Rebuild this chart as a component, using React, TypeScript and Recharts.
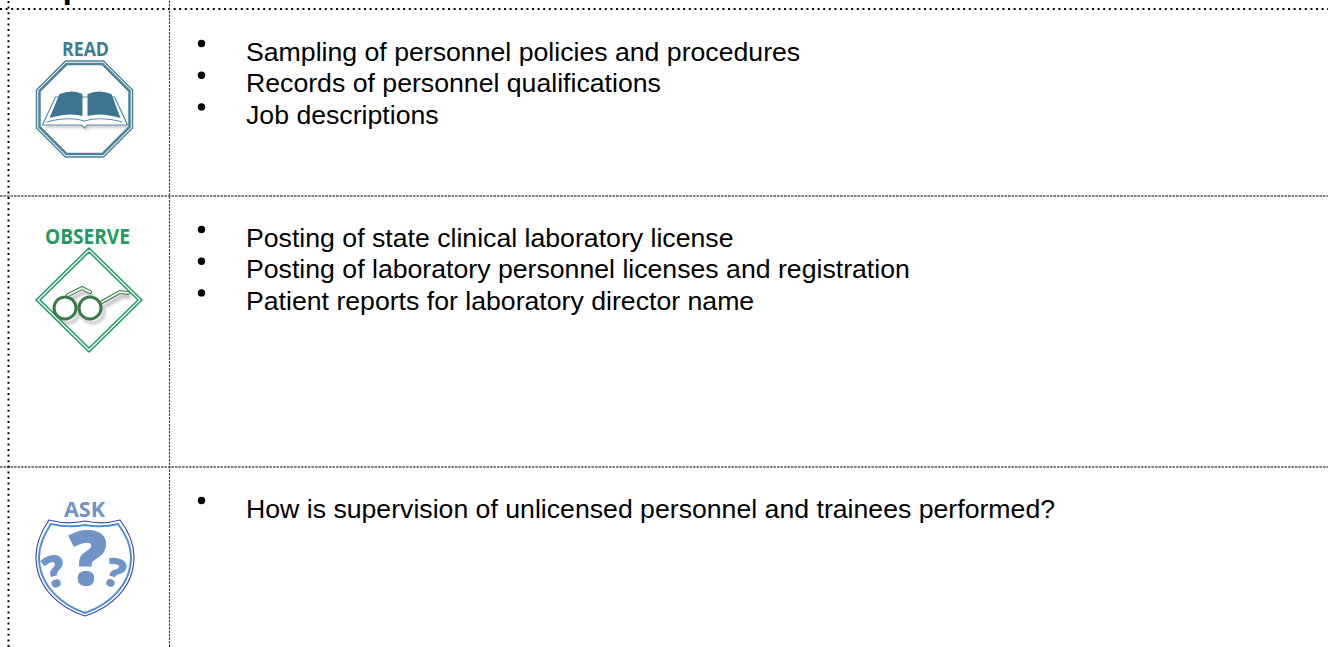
import { ReferenceLine, Scatter, ScatterChart, XAxis, YAxis } from "recharts";

// three rows of the checklist, text only
const sections = ["READ", "OBSERVE", "ASK"];
const readItems = [
  "Sampling of personnel policies and procedures",
  "Records of personnel qualifications",
  "Job descriptions",
];
const observeItems = [
  "Posting of state clinical laboratory license",
  "Posting of laboratory personnel licenses and registration",
  "Patient reports for laboratory director name",
];
const askItems = ["How is supervision of unlicensed personnel and trainees performed?"];
const titleFragment = "p"; // only the descender of the cropped title is visible

const W = 1328;
const H = 647;
const FONT = "'Liberation Sans', Arial, sans-serif";
const ICON_FONT = "'Open Sans', sans-serif";
const TEXT_X = 246;
const BULLET_X = 201.5;
const FIRST_LINE = [52, 238, 509];
const LINE_STEP = 31.7;
const ICON_X = [84.5, 89, 85];
const ICON_Y = [109, 300, 568];

const groups = [readItems, observeItems, askItems];
const itemPoints = groups.flatMap((items, g) =>
  items.map((label, i) => ({ x: TEXT_X, y: FIRST_LINE[g] + i * LINE_STEP, label })),
);
const iconPoints = sections.map((name, i) => ({ x: ICON_X[i], y: ICON_Y[i], name }));

function ItemShape(props: any) {
  const { cx, cy, payload } = props;
  return (
    <g>
      <circle cx={BULLET_X} cy={cy - 8.5} r={3.7} fill="#000" />
      <text x={cx} y={cy + 8.5} fontFamily={FONT} fontSize={26.67} fill="#000">
        {payload.label}
      </text>
    </g>
  );
}

function ReadIcon() {
  const teal = "#4b8399";
  const bookEdge = "M-29,-12 L-42,16 L-3,16 L0,19 L3,16 L43,16 L30,-12 Z";
  return (
    <g>
      <text x={1} y={-53} textAnchor="middle" fontFamily={ICON_FONT} fontWeight={700} fontSize={20} textLength={47} lengthAdjust="spacingAndGlyphs" fill="#3f7a93">{sections[0]}</text>
      <polygon points="-19,-48 19,-48 48,-19 48,19 19,48 -19,48 -48,19 -48,-19" fill="#fff" stroke={teal} strokeWidth={1.5} />
      <polygon points="-18,-45 18,-45 45,-18 45,18 18,45 -18,45 -45,18 -45,-18" fill="#fff" stroke={teal} strokeWidth={2.5} />
      <path d={bookEdge} transform="translate(2,3)" fill="#999" opacity={0.45} filter="url(#soft)" />
      <path d={bookEdge} fill="#fff" stroke="#5d8ea3" strokeWidth={1.2} />
      <path d="M-25,-15 Q-12,-20 -2,-15 L-2,7 Q-15,3 -35,9 Z" fill="#3d7690" />
      <path d="M3,-15 Q14,-20 27,-15 L36,9 Q16,3 3,7 Z" fill="#3d7690" />
      <path d="M-38,13 Q-15,7 0,12 Q15,7 38,13" fill="none" stroke="#5d8ea3" strokeWidth={1.2} />
    </g>
  );
}

function ObserveIcon() {
  const green = "#1f9a62";
  const dark = "#3c7a48";
  const arms = "M-21,-5 L-7,-12 L1,-8 M13,2 L31,-8 L39,-7";
  return (
    <g>
      <text x={-1.5} y={-56} textAnchor="middle" fontFamily={ICON_FONT} fontWeight={700} fontSize={21} textLength={85} lengthAdjust="spacingAndGlyphs" fill={green}>{sections[1]}</text>
      <polygon points="0,-52 53,0 0,52 -53,0" fill="#fff" stroke={green} strokeWidth={1.5} strokeLinejoin="round" />
      <polygon points="0,-48 49,0 0,48 -49,0" fill="#fff" stroke={green} strokeWidth={1.5} strokeLinejoin="round" />
      <g transform="translate(3,4)" opacity={0.45} filter="url(#soft)">
        <path d={arms} fill="none" stroke="#777" strokeWidth={4} />
        <circle cx={-24} cy={8} r={11} fill="none" stroke="#777" strokeWidth={3} />
        <circle cx={1} cy={8} r={11} fill="none" stroke="#777" strokeWidth={3} />
      </g>
      <path d={arms} fill="none" stroke={dark} strokeWidth={4} strokeLinecap="round" />
      <path d={arms} fill="none" stroke="#e8f2ea" strokeWidth={2} strokeLinecap="round" />
      <circle cx={-24} cy={8} r={11} fill="#fff" stroke={dark} strokeWidth={3} />
      <circle cx={1} cy={8} r={11} fill="#fff" stroke={dark} strokeWidth={3} />
    </g>
  );
}

function AskIcon() {
  const blue = "#7093c8";
  return (
    <g>
      <text x={-0.5} y={-51} textAnchor="middle" fontFamily={ICON_FONT} fontWeight={700} fontSize={22} textLength={41} lengthAdjust="spacingAndGlyphs" fill={blue}>{sections[2]}</text>
      <path d="M-36,-48 Q-18,-43 0,-47 Q18,-43 35,-48 C45,-35 49,-22 49,-11 C49,20 25,40 0,48 C-25,40 -49,20 -49,-11 C-49,-22 -45,-35 -36,-48 Z" fill="#fff" stroke="#3f4fa8" strokeWidth={1.2} />
      <path d="M-34,-44 Q-17,-40 0,-43 Q17,-40 33,-44 C42,-32 46,-21 46,-11 C46,18 23,37 0,45 C-23,37 -46,18 -46,-11 C-46,-21 -42,-32 -34,-44 Z" fill="#fff" stroke="#4f8fd0" strokeWidth={2} />
      <text x={3} y={17} textAnchor="middle" fontFamily={ICON_FONT} fontWeight={800} fontSize={74} stroke={blue} strokeWidth={1.5} fill={blue}>?</text>
      <text x={-31} y={19} textAnchor="middle" fontFamily={ICON_FONT} fontWeight={800} fontSize={44} fill={blue} transform="rotate(-14 -31 2)">?</text>
      <text x={30} y={19} textAnchor="middle" fontFamily={ICON_FONT} fontWeight={800} fontSize={40} fill={blue} transform="rotate(18 30 4)">?</text>
    </g>
  );
}

function IconShape(props: any) {
  const { cx, cy, payload } = props;
  return (
    <g transform={`translate(${cx},${cy})`}>
      {payload.name === "READ" && <ReadIcon />}
      {payload.name === "OBSERVE" && <ObserveIcon />}
      {payload.name === "ASK" && <AskIcon />}
    </g>
  );
}

// outer frame is a round dotted line, the inner rules are a denser thin dash
const dotted = { stroke: "#000", strokeWidth: 2, strokeDasharray: "2 3.6" };
const thin = { stroke: "#000", strokeWidth: 1.2, strokeDasharray: "2.5 1" };

export default function App() {
  return (
    <div style={{ position: "absolute", left: 0, top: 0, width: W, height: H, overflow: "hidden", background: "#fff" }}>
      <ScatterChart width={W} height={H} margin={{ top: 0, right: 0, bottom: 0, left: 0 }}>
        <defs>
          <filter id="soft" x="-20%" y="-20%" width="140%" height="140%">
            <feGaussianBlur stdDeviation="1.5" />
          </filter>
        </defs>
        <XAxis type="number" dataKey="x" domain={[0, W]} hide />
        <YAxis type="number" dataKey="y" domain={[0, H]} reversed hide />
        <ReferenceLine y={9} {...dotted} />
        <ReferenceLine y={196} {...thin} />
        <ReferenceLine y={467} {...thin} />
        <ReferenceLine x={8.5} {...dotted} />
        <ReferenceLine x={169.5} {...thin} stroke="#444" />
        <text x={62.5} y={-2.5} fontFamily={FONT} fontWeight={700} fontSize={34} fill="#000">{titleFragment}</text>
        <Scatter data={iconPoints} shape={IconShape} isAnimationActive={false} />
        <Scatter data={itemPoints} shape={ItemShape} isAnimationActive={false} />
      </ScatterChart>
    </div>
  );
}
